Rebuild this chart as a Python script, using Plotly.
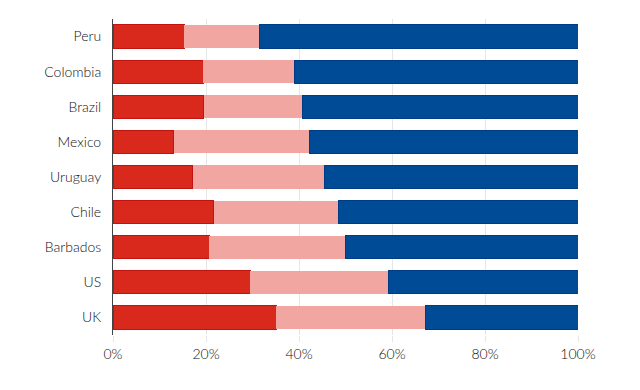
import plotly.graph_objects as go

countries = ["Peru", "Colombia", "Brazil", "Mexico", "Uruguay", "Chile", "Barbados", "US", "UK"]
red_vals = [15.3, 19.4, 19.5, 13.1, 17.1, 21.7, 20.7, 29.5, 35.1]
pink_totals = [31.5, 39.1, 40.8, 42.2, 45.5, 48.6, 50.0, 59.3, 67.1]
pink_vals = [round(p - r, 1) for p, r in zip(pink_totals, red_vals)]
blue_vals = [round(100 - p, 1) for p in pink_totals]
tick_vals = [0, 20, 40, 60, 80, 100]
tick_text = ["0%", "20%", "40%", "60%", "80%", "100%"]

fig = go.Figure()
fig.add_bar(y=countries, x=red_vals, orientation="h", name="a",
            marker=dict(color="#D9291C", line=dict(color="#C4120E", width=1)))
fig.add_bar(y=countries, x=pink_vals, orientation="h", name="b",
            marker=dict(color="#F2A6A1", line=dict(width=0)))
fig.add_bar(y=countries, x=blue_vals, orientation="h", name="c",
            marker=dict(color="#004B96", line=dict(color="#003C85", width=1)))

fig.update_layout(
    barmode="stack",
    bargap=0.34,
    width=640, height=390,
    margin=dict(l=105, r=70, t=11, b=63),
    paper_bgcolor="white", plot_bgcolor="white",
    showlegend=False,
    font=dict(family="Lato", size=14, color="#111111", weight=300),
    xaxis=dict(range=[0, 100], tickvals=tick_vals, ticktext=tick_text,
               showgrid=True, gridcolor="#E6E6E6", gridwidth=1,
               zeroline=False, ticks="outside", ticklen=6, tickcolor="#E6E6E6",
               tickfont=dict(size=14, color="#111111", weight=300), fixedrange=True),
    yaxis=dict(categoryorder="array", categoryarray=countries[::-1],
               showline=True, linecolor="#444444", linewidth=1,
               showgrid=False, ticks="", ticklabelstandoff=8,
               tickfont=dict(size=14, color="#111111", weight=300)),
)

fig.write_html("out.html")
